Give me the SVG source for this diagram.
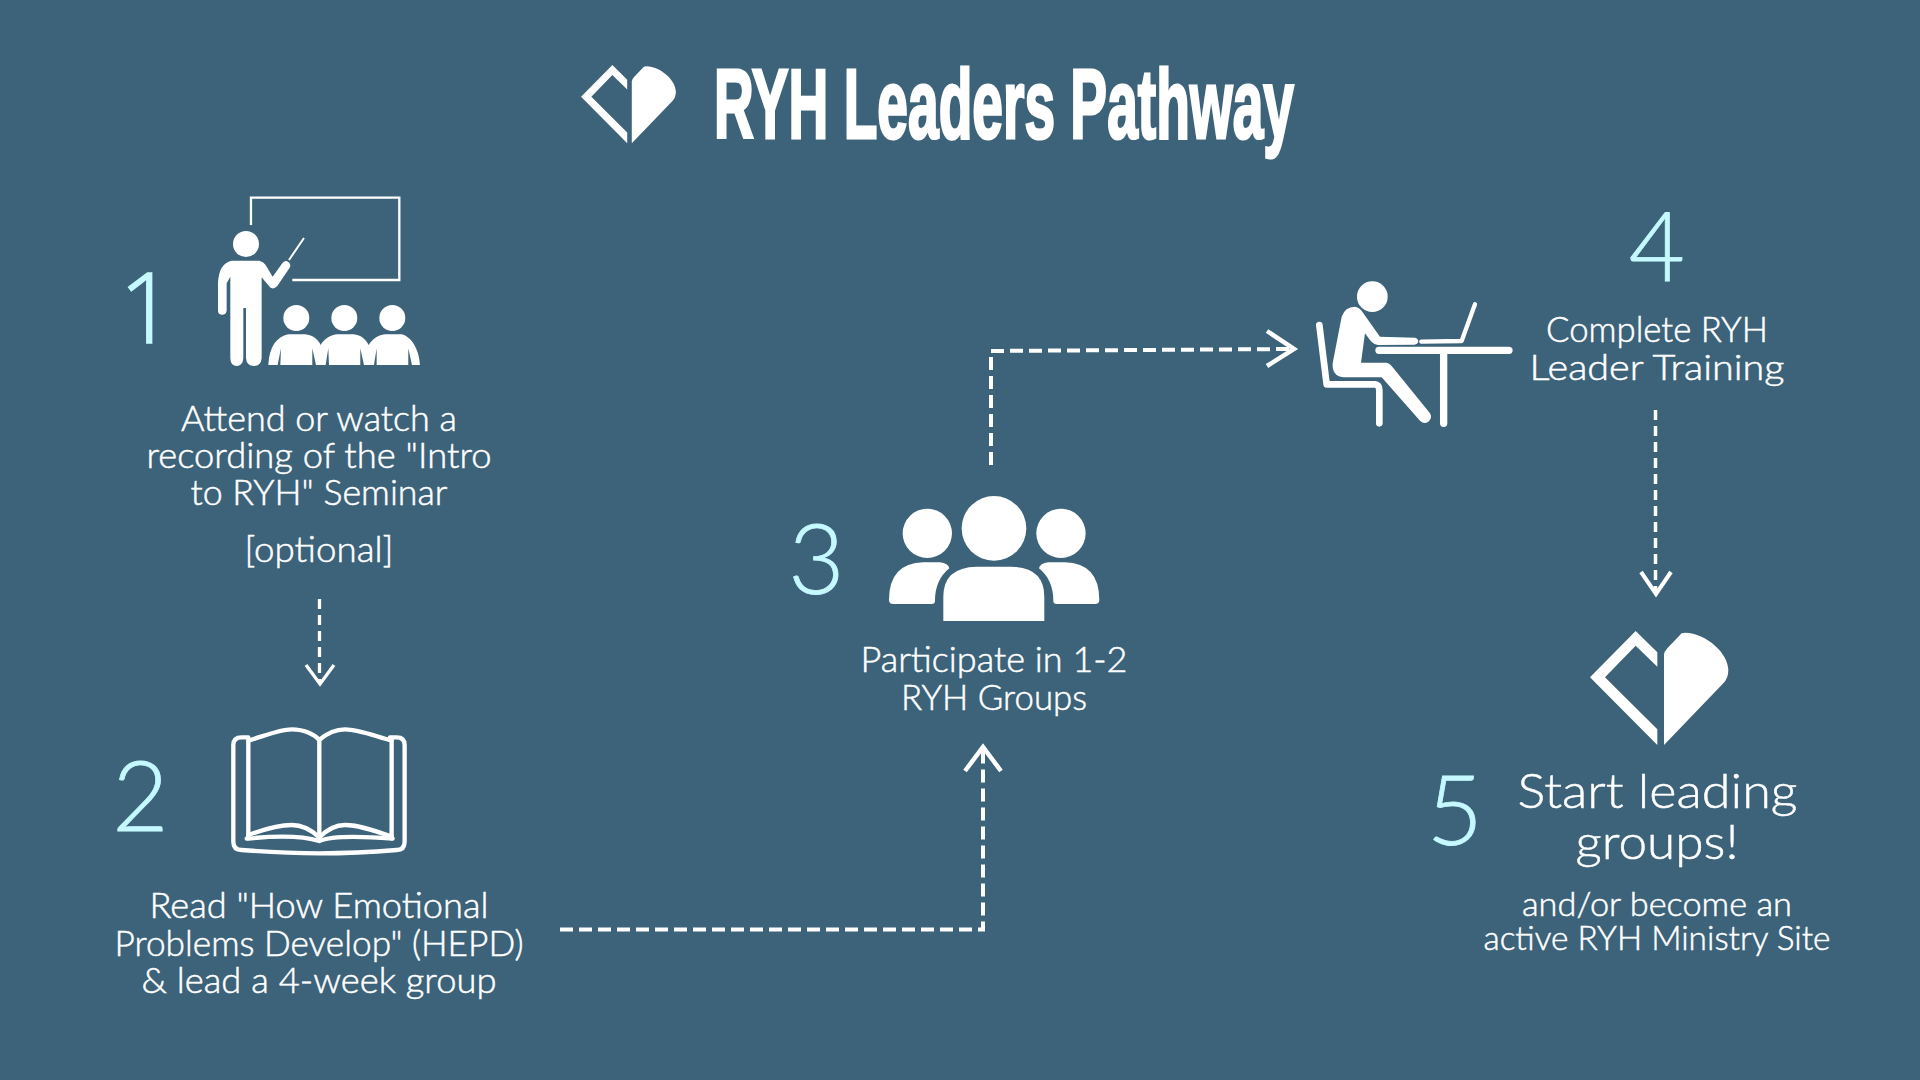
<svg xmlns="http://www.w3.org/2000/svg" width="1920" height="1080" viewBox="0 0 1920 1080">
<style>
text{font-family:"Lato","Open Sans","Liberation Sans",sans-serif;font-weight:300;fill:#fff;stroke:#fff;stroke-width:.5px;text-anchor:middle}
.t{font-size:35px}
.n{font-size:97px;fill:#c5f9ff;stroke:#c5f9ff;stroke-width:.8px}
.f{fill:#fff}
.s{fill:none;stroke:#fff;stroke-linecap:round;stroke-linejoin:round}
.c{fill:none;stroke:#fff;stroke-linecap:butt}
.h{fill:none;stroke:#fff;stroke-linecap:butt;stroke-linejoin:miter}
</style>
<defs>
<g id="heart"><path class="f" d="M90,172L227,33L292,97V140L227,77L135,172L292,328V375Z"/><path class="f" d="M312,375V105Q312,95 322,85L365,40L375,38C440,40 505,100 505,150Q505,175 490,190Z"/></g>
</defs>
<rect width="1920" height="1080" fill="#3c6379"/>
<g id="title">
<use href="#heart" transform="translate(560.500,57.500) scale(.2285)"/>
<text x="1004" y="138" textLength="580" lengthAdjust="spacingAndGlyphs" style="font-family:'Liberation Sans',sans-serif;font-weight:700;font-size:98px;stroke-width:3px">RYH Leaders Pathway</text>
</g>
<g id="node1">
<text class="n" x="147" y="343" style="font-family:'Open Sans',sans-serif;stroke-width:1.5px">1</text>
<g transform="translate(100,180) scale(.3333)">
<path class="c" d="M453,135V53H898V300H577" style="stroke-width:7"/>
<circle class="f" cx="438" cy="192" r="39"/>
<path class="f" d="M395,242L478,242Q490,245 497,255L518,290L548,248Q558,238 568,248Q574,258 568,265L532,318Q520,330 510,322L485,292L485,535Q483,558 462,558Q440,558 438,535L438,384L430,384L430,535Q428,558 410,558Q392,558 391,535L391,290L380,310L380,392Q378,404 367,404Q354,404 354,392L354,310Q356,250 395,242Z"/>
<path class="c" style="stroke-width:6" d="M567,240L612,174"/>
<circle class="f" cx="589" cy="414" r="39"/><circle class="f" cx="733" cy="414" r="39"/><circle class="f" cx="877" cy="414" r="39"/>
<path class="f" d="M505,555C508,500 530,470 565,463L615,463C640,465 655,480 662,495C672,478 690,465 710,463L760,463C785,465 798,480 806,495C818,478 832,465 855,463L905,463C935,470 958,510 960,555Z"/>
<path fill="#3c6379" d="M543,505L541,555H533ZM637,505L648,555H637ZM685,505L687,555H677ZM781,505L792,555H781ZM830,505L830,555H822ZM925,505L936,555H925Z"/>
</g>
<text class="t" x="319" y="431" textLength="276" lengthAdjust="spacingAndGlyphs">Attend or watch a</text>
<text class="t" x="319" y="468" textLength="345" lengthAdjust="spacingAndGlyphs">recording of the "Intro</text>
<text class="t" x="319" y="504.500" textLength="257" lengthAdjust="spacingAndGlyphs">to RYH" Seminar</text>
<text class="t" x="319" y="561.500" textLength="149" lengthAdjust="spacingAndGlyphs">[optional]</text>
</g>
<g id="node2">
<text class="n" x="140.500" y="831">2</text>
<g transform="translate(100,700) scale(.3333)">
<path class="s" style="stroke-width:13" d="M445,112H425Q400,112 400,135V425Q400,450 425,450Q550,460 658,460Q770,460 890,450Q914,450 914,425V135Q914,112 890,112H870"/>
<path class="s" style="stroke-width:13" d="M445,122C500,105 540,88 575,88C615,88 645,105 658,120C675,105 700,88 735,88C775,88 815,105 875,122"/>
<path class="s" style="stroke-width:13" d="M658,120V420M445,122V415M875,122V415"/>
<path class="s" style="stroke-width:13" d="M445,405C500,385 540,375 575,375C610,375 640,395 658,412C675,395 700,375 735,375C775,375 820,390 875,410"/>
<path class="s" style="stroke-width:13" d="M440,416C500,410 600,405 658,423C700,405 800,410 878,416"/>
</g>
<text class="t" x="319" y="917.500" textLength="339" lengthAdjust="spacingAndGlyphs">Read "How Emotional</text>
<text class="t" x="319" y="955.500" textLength="409" lengthAdjust="spacingAndGlyphs">Problems Develop" (HEPD)</text>
<text class="t" x="319" y="993" textLength="355" lengthAdjust="spacingAndGlyphs">&amp; lead a 4-week group</text>
</g>
<g id="node3">
<text class="n" x="816.500" y="594">3</text>
<g transform="translate(780,480) scale(.3333)">
<circle class="f" cx="642" cy="145" r="97"/><circle class="f" cx="442" cy="160" r="74"/><circle class="f" cx="843" cy="160" r="74"/>
<path class="f" d="M490,423V350Q490,262 590,260H695Q793,262 793,350V423Z"/>
<path class="f" d="M327,360Q327,250 430,247H480Q505,250 508,265Q465,300 465,362Q465,372 455,372H340Q327,372 327,360Z"/>
<path class="f" d="M958,360Q958,250 855,247H805Q780,250 777,265Q820,300 820,362Q820,372 830,372H945Q958,372 958,360Z"/>
</g>
<text class="t" x="994" y="672" textLength="267" lengthAdjust="spacingAndGlyphs">Participate in 1-2</text>
<text class="t" x="994" y="710" textLength="186" lengthAdjust="spacingAndGlyphs">RYH Groups</text>
</g>
<g id="node4">
<text class="n" x="1657" y="281">4</text>
<g transform="translate(1280,270) scale(.3333)">
<circle class="f" cx="277" cy="80" r="46"/>
<path class="f" d="M185,140Q195,110 225,110Q240,112 250,130L300,200L405,203Q415,206 415,214Q413,224 403,224L295,225Q280,224 270,210L255,190L243,278L320,278Q330,280 335,288L450,430Q458,445 445,455Q432,465 420,452L305,322L190,322Q155,318 158,280Z"/>
<path class="s" style="stroke-width:20" d="M118,165L140,343H285Q298,345 298,360V460"/>
<path class="s" style="stroke-width:13" d="M424,215L545,213L585,103"/>
<path class="s" style="stroke-width:22" d="M297,241H687M491,241V460"/>
</g>
<text class="t" x="1657" y="341.500" textLength="222" lengthAdjust="spacingAndGlyphs">Complete RYH</text>
<text class="t" x="1657" y="380" textLength="255" lengthAdjust="spacingAndGlyphs">Leader Training</text>
</g>
<g id="node5">
<use href="#heart" transform="translate(1560,620) scale(.3333)"/>
<text class="n" x="1455" y="845">5</text>
<text x="1657.500" y="808" style="font-size:48px" textLength="280" lengthAdjust="spacingAndGlyphs">Start leading</text>
<text x="1657" y="859" style="font-size:48px" textLength="163" lengthAdjust="spacingAndGlyphs">groups!</text>
<text x="1657" y="916" style="font-size:33px" textLength="270" lengthAdjust="spacingAndGlyphs">and/or become an</text>
<text x="1657" y="950" style="font-size:33px" textLength="347" lengthAdjust="spacingAndGlyphs">active RYH Ministry Site</text>
</g>
<g id="connectors">
<path class="c" style="stroke-width:3.300" stroke-dasharray="10 6" d="M319.500,599V682"/>
<path class="h" style="stroke-width:3.300" d="M306,665L320,684L334,665"/>
<path class="c" style="stroke-width:4" stroke-dasharray="13 6" d="M560,929.500H983V750"/>
<path class="h" style="stroke-width:4.500" d="M965,771L983,747L1001,771"/>
<path class="c" style="stroke-width:4" stroke-dasharray="13 6" d="M991,465V351L1292,349"/>
<path class="h" style="stroke-width:4.500" d="M1267,331L1294,349L1267,366"/>
<path class="c" style="stroke-width:3.500" stroke-dasharray="10 6" d="M1655.500,410V592"/>
<path class="h" style="stroke-width:4" d="M1641,572L1656,594L1671,572"/>
</g>
</svg>
